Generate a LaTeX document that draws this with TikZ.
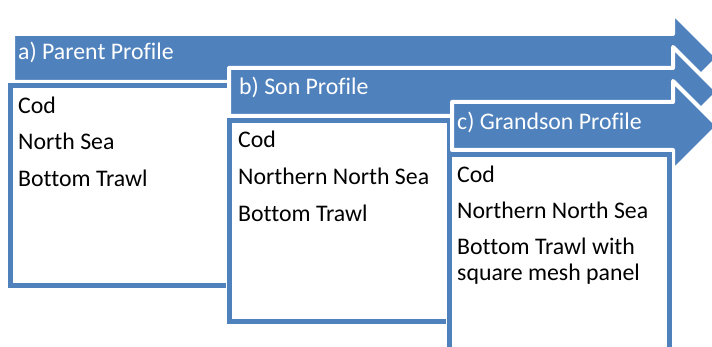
\documentclass[tikz,border=0pt]{standalone}
\usepackage{fontspec}
\newfontfamily\profilefont[Ligatures=NoCommon]{Carlito}
\definecolor{profileblue}{HTML}{4F81BD}

\begin{document}
\begin{tikzpicture}[x=1pt,y=-1pt,
  hdr/.style={fill=profileblue,draw=white,line width=4pt,line join=round},
  infobox/.style={draw=profileblue,line width=5pt,preaction={draw=white,line width=6.5pt}},
  hdrtext/.style={anchor=base west,inner sep=0pt,text=white,font=\profilefont\fontsize{23.8}{25.5}\selectfont},
  itemtext/.style={anchor=base west,inner sep=0pt,text=black,font=\profilefont\fontsize{23.8}{25.5}\selectfont}]
\useasboundingbox (0,0) rectangle (712,347);
% header arrows, boxes and titles
\foreach \px/\py/\bx/\by/\tx/\ty/\name/\title in %
{13/34/10.5/86/18/60/parent/a) Parent Profile,
 229/68/229.5/121/239/95/son/b) Son Profile,
 452/102/449.5/155/457/130/grandson/c) Grandson Profile} {
   \draw[hdr] (\px,\py) -- (673,\py) -- (673,\py-21) -- (718,\py+24)
      -- (673,\py+69) -- (673,\py+48) -- (\px,\py+48) -- cycle;
   \draw[infobox] (\bx,\by) rectangle (\bx+220,\by+200);
   \node[hdrtext] (\name-title) at (\tx,\ty) {\title};
}
% box contents
\foreach \y/\1 in %
{113.5/Cod,150/North Sea,186.5/Bottom Trawl} {
   \node[itemtext] (parent-\y) at (18,\y) {\1};
}
\foreach \y/\1 in %
{148/Cod,185/Northern North Sea,221.5/Bottom Trawl} {
   \node[itemtext] (son-\y) at (238,\y) {\1};
}
\foreach \y/\1 in %
{183/Cod,219/Northern North Sea,255/Bottom Trawl with,280/square mesh panel} {
   \node[itemtext] (grandson-\y) at (457,\y) {\1};
}
\end{tikzpicture}
\end{document}
